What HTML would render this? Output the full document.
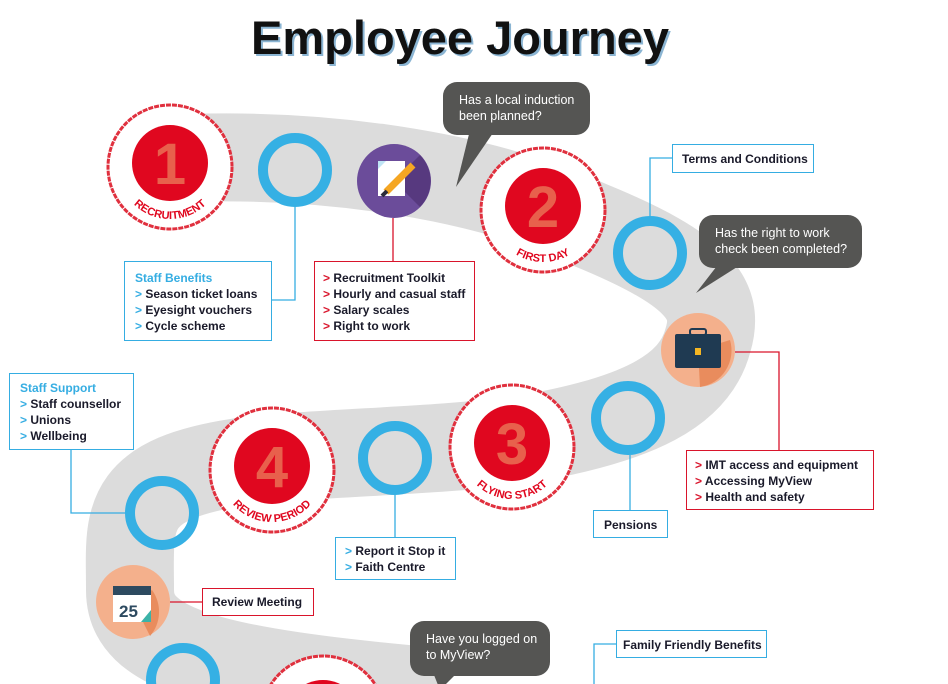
<!DOCTYPE html>
<html><head><meta charset="utf-8"><style>
html,body{margin:0;padding:0;background:#fff;}
body{width:948px;height:684px;overflow:hidden;position:relative;font-family:"Liberation Sans",sans-serif;}
svg{position:absolute;left:0;top:0;}
.box{position:absolute;background:#fff;font-weight:bold;font-size:12px;line-height:16px;color:#1a1a2a;box-sizing:border-box;}
.b{border:1.5px solid #35ade2;}
.r{border:1.5px solid #d9142b;}
.b i{color:#35ade2;font-style:normal;}
.r i{color:#d9142b;font-style:normal;}
.bub{position:absolute;background:#555553;color:#fff;font-size:12.5px;line-height:16px;border-radius:14px;box-sizing:border-box;padding:10px 0 0 16px;}
</style></head><body>
<svg width="948" height="684" viewBox="0 0 948 684">
<path d="M 150 160 C 300 150, 470 170, 590 225 C 700 270, 720 300, 708 340 C 695 390, 640 420, 520 440 C 430 452, 320 452, 240 462 C 120 480, 130 520, 130 590 C 130 650, 210 672, 440 692" fill="none" stroke="#dcdcdc" stroke-width="88"/>
<!-- connectors -->
<g fill="none" stroke-width="1.3">
<polyline points="272,300 295,300 295,207" stroke="#35ade2"/>
<polyline points="393,218 393,261" stroke="#d9142b"/>
<polyline points="672,158 650,158 650,216" stroke="#35ade2"/>
<polyline points="735,352 779,352 779,450" stroke="#d9142b"/>
<polyline points="630,455 630,510" stroke="#35ade2"/>
<polyline points="71,449 71,513 125,513" stroke="#35ade2"/>
<polyline points="395,495 395,537" stroke="#35ade2"/>
<polyline points="170,602 202,602" stroke="#d9142b"/>
<polyline points="616,644 594,644 594,684" stroke="#35ade2"/>
</g>
<!-- bubble tails -->
<polygon points="470,130 495,130 456,187" fill="#555553"/>
<polygon points="720,262 745,262 696,293" fill="#555553"/>
<polygon points="432,670 460,670 440,690" fill="#555553"/>
<!-- blue rings -->
<g fill="none" stroke="#35b0e4" stroke-width="10">
<circle cx="295" cy="170" r="32"/>
<circle cx="650" cy="253" r="32"/>
<circle cx="628" cy="418" r="32"/>
<circle cx="395" cy="458" r="32"/>
<circle cx="162" cy="513" r="32"/>
<circle cx="183" cy="680" r="32"/>
</g>
<!-- icon circles -->
<circle cx="394" cy="181" r="37" fill="#6b4c9a"/>
<path d="M394 181 L420 155 A37 37 0 0 1 420 207 Z" fill="#57397f"/>
<rect x="378" y="161" width="27" height="35" fill="#fff"/>
<polygon points="378,161 386,161 378,169" fill="#bfe4f5"/>
<line x1="386" y1="192" x2="413" y2="165" stroke="#f5a623" stroke-width="7"/>
<line x1="382" y1="196" x2="387" y2="191" stroke="#2b2b3a" stroke-width="4"/>
<circle cx="698" cy="350" r="37" fill="#f4b08c"/>
<path d="M698 350 L730 340 A37 37 0 0 1 700 387 Z" fill="#e98c5d"/>
<rect x="675" y="334" width="46" height="34" rx="2" fill="#1f3a52"/>
<rect x="690" y="329" width="16" height="6" rx="2" fill="none" stroke="#1f3a52" stroke-width="2"/>
<rect x="695" y="348" width="6" height="7" fill="#f5b623"/>
<circle cx="133" cy="602" r="37" fill="#f4b08c"/>
<path d="M133 602 L152 590 A37 37 0 0 1 150 636 Z" fill="#e98c5d"/>
<rect x="113" y="586" width="38" height="36" fill="#fff"/>
<rect x="113" y="586" width="38" height="9" fill="#2d4a60"/>
<text x="119" y="617" font-size="17" font-weight="bold" fill="#2d4a60" font-family="Liberation Sans,sans-serif">25</text>
<polygon points="151,610 151,622 141,622" fill="#3cb3a8"/>
<!-- step circles -->
<defs>
<path id="a1" d="M 118 167 A 52 52 0 0 0 222 167"/>
<path id="a2" d="M 491 210 A 52 52 0 0 0 595 210"/>
<path id="a3" d="M 460 447 A 52 52 0 0 0 564 447"/>
<path id="a4" d="M 220 470 A 52 52 0 0 0 324 470"/>
</defs>
<g stroke="#e0303e" stroke-width="3" fill="#fff" stroke-dasharray="5 1">
<circle cx="170" cy="167" r="62"/>
<circle cx="543" cy="210" r="62"/>
<circle cx="512" cy="447" r="62"/>
<circle cx="272" cy="470" r="62"/>
<circle cx="323" cy="718" r="62"/>
</g>
<g fill="#e0071f">
<circle cx="170" cy="163" r="38"/>
<circle cx="543" cy="206" r="38"/>
<circle cx="512" cy="443" r="38"/>
<circle cx="272" cy="466" r="38"/>
<circle cx="323" cy="718" r="38"/>
</g>
<g fill="#e8604c" font-family="Liberation Sans,sans-serif" font-weight="bold" font-size="58" text-anchor="middle">
<text x="170" y="184">1</text>
<text x="543" y="227">2</text>
<text x="512" y="464">3</text>
<text x="272" y="487">4</text>
</g>
<g fill="#e0071f" font-family="Liberation Sans,sans-serif" font-weight="bold" font-size="11" text-anchor="middle">
<text><textPath href="#a1" startOffset="50%">RECRUITMENT</textPath></text>
<text><textPath href="#a2" startOffset="50%">FIRST DAY</textPath></text>
<text><textPath href="#a3" startOffset="50%">FLYING START</textPath></text>
<text><textPath href="#a4" startOffset="50%">REVIEW PERIOD</textPath></text>
</g>
<!-- title -->
<text x="462" y="56" text-anchor="middle" font-family="Liberation Sans,sans-serif" font-weight="bold" font-size="47" fill="#1a6ea8" opacity="0.5">Employee Journey</text>
<text x="460" y="54" text-anchor="middle" font-family="Liberation Sans,sans-serif" font-weight="bold" font-size="47" fill="#111">Employee Journey</text>
</svg>

<div class="bub" style="left:443px;top:82px;width:147px;height:53px;">Has a local induction<br>been planned?</div>
<div class="bub" style="left:699px;top:215px;width:163px;height:53px;">Has the right to work<br>check been completed?</div>
<div class="bub" style="left:410px;top:621px;width:140px;height:55px;">Have you logged on<br>to MyView?</div>

<div class="box b" style="left:124px;top:261px;width:148px;height:80px;padding:8px 0 0 10px;"><span style="color:#35ade2">Staff Benefits</span><br><i>&gt;</i> Season ticket loans<br><i>&gt;</i> Eyesight vouchers<br><i>&gt;</i> Cycle scheme</div>
<div class="box r" style="left:314px;top:261px;width:161px;height:80px;padding:8px 0 0 8px;"><i>&gt;</i> Recruitment Toolkit<br><i>&gt;</i> Hourly and casual staff<br><i>&gt;</i> Salary scales<br><i>&gt;</i> Right to work</div>
<div class="box b" style="left:672px;top:144px;width:142px;height:29px;padding:6px 0 0 9px;">Terms and Conditions</div>
<div class="box r" style="left:686px;top:450px;width:188px;height:60px;padding:6px 0 0 8px;"><i>&gt;</i> IMT access and equipment<br><i>&gt;</i> Accessing MyView<br><i>&gt;</i> Health and safety</div>
<div class="box b" style="left:593px;top:510px;width:75px;height:28px;padding:6px 0 0 10px;">Pensions</div>
<div class="box b" style="left:9px;top:373px;width:125px;height:77px;padding:6px 0 0 10px;"><span style="color:#35ade2">Staff Support</span><br><i>&gt;</i> Staff counsellor<br><i>&gt;</i> Unions<br><i>&gt;</i> Wellbeing</div>
<div class="box b" style="left:335px;top:537px;width:121px;height:43px;padding:5px 0 0 9px;"><i>&gt;</i> Report it Stop it<br><i>&gt;</i> Faith Centre</div>
<div class="box r" style="left:202px;top:588px;width:112px;height:28px;padding:5px 0 0 9px;">Review Meeting</div>
<div class="box b" style="left:616px;top:630px;width:151px;height:28px;padding:6px 0 0 6px;">Family Friendly Benefits</div>
</body></html>
